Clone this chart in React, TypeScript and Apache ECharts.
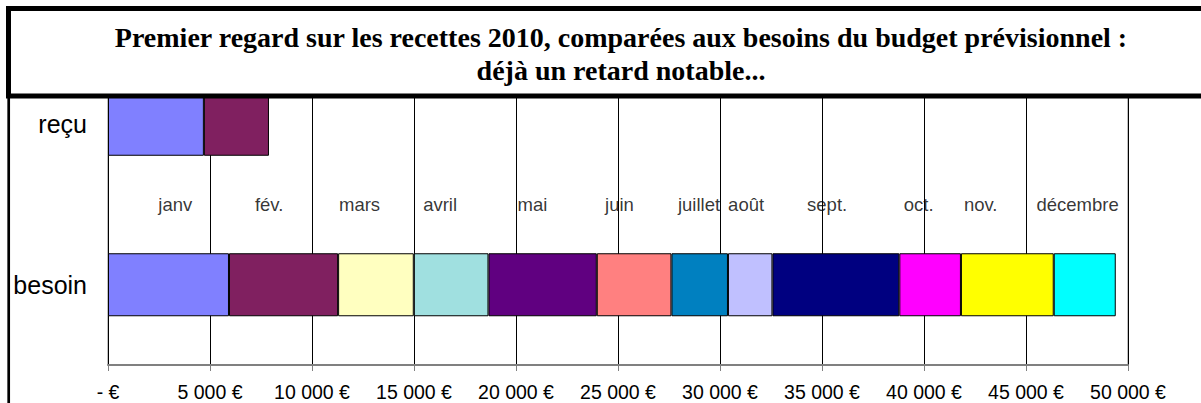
import React, { useEffect, useRef } from "react";
import * as echarts from "echarts";

const categories = ["besoin", "reçu"];
const months = ["janv", "fév.", "mars", "avril", "mai", "juin", "juillet", "août", "sept.", "oct.", "nov.", "décembre"];
const besoinValues = [5930, 5350, 3710, 3660, 5310, 3660, 2770, 2180, 6220, 3020, 4550, 3040];
const recuValues: (number | null)[] = [4700, 3190, null, null, null, null, null, null, null, null, null, null];
const monthColors = ["#8080FF", "#802060", "#FFFFC0", "#A0E0E0", "#600080", "#FF8080", "#0080C0", "#C0C0FF", "#000080", "#FF00FF", "#FFFF00", "#00FFFF"];
const monthLabelPositions = [3300, 7900, 12330, 16280, 20810, 25070, 28970, 31280, 35250, 39740, 42780, 47530];
const xTicks = { min: 0, max: 50000, interval: 5000 };
const titleLines = [
  "Premier regard sur les recettes 2010, comparées aux besoins du budget prévisionnel :",
  "déjà un retard notable...",
];

function fmtEuro(v: number): string {
  if (v === 0) return "- €";
  return String(v).replace(/\B(?=(\d{3})+(?!\d))/g, " ") + " €";
}

export default function App() {
  const ref = useRef<HTMLDivElement>(null);
  useEffect(() => {
    if (!ref.current) return;
    const chart = echarts.init(ref.current, undefined, { renderer: "svg" });
    const barSeries = months.map((m, i) => ({
      name: m,
      type: "bar",
      stack: "total",
      barWidth: 63,
      data: [besoinValues[i], recuValues[i]],
      itemStyle: { color: monthColors[i], borderColor: "#000", borderWidth: 1 },
      z: 3,
    }));
    chart.setOption({
      animation: false,
      backgroundColor: "#fff",
      textStyle: { fontFamily: "Liberation Sans" },
      grid: {
        left: 108,
        right: 73,
        top: 44,
        bottom: 38,
        show: true,
        borderColor: "#808080",
        borderWidth: 1,
        backgroundColor: "transparent",
      },
      xAxis: {
        type: "value",
        min: xTicks.min,
        max: xTicks.max,
        interval: xTicks.interval,
        axisLine: { show: true, lineStyle: { color: "#808080", width: 2 } },
        axisTick: { show: true, length: 6, lineStyle: { color: "#808080", width: 1 } },
        axisLabel: {
          formatter: fmtEuro,
          color: "#000",
          fontSize: 19.5,
          margin: 17,
          fontFamily: "Liberation Sans",
        },
        splitLine: { show: true, lineStyle: { color: "#000", width: 1 } },
      },
      yAxis: [
        {
          type: "category",
          data: categories,
          axisLine: { show: true, lineStyle: { color: "#000", width: 1 } },
          axisTick: { show: false },
          axisLabel: { color: "#000", fontSize: 25, margin: 21, fontFamily: "Liberation Sans" },
        },
        {
          type: "value",
          min: 0,
          max: 2,
          show: false,
        },
      ],
      series: [
        ...barSeries,
        {
          type: "scatter",
          yAxisIndex: 1,
          symbolSize: 0,
          silent: true,
          data: monthLabelPositions.map((x, i) => ({ value: [x, 1], name: months[i] })),
          label: {
            show: true,
            position: "inside",
            formatter: (p: any) => p.name,
            color: "#000",
            fontSize: 18.5,
            fontFamily: "Liberation Sans",
          },
          z: 4,
        },
      ],
      graphic: [
        {
          type: "rect",
          z: 100,
          shape: { x: 8.5, y: 8.5, width: 1230, height: 87.5 },
          style: { fill: "#fff", stroke: "#000", lineWidth: 5 },
        },
        {
          type: "text",
          z: 101,
          x: 621,
          y: 54,
          style: {
            text: titleLines.join("\n"),
            font: 'bold 28px "Liberation Serif"',
            fill: "#000",
            align: "center",
            verticalAlign: "middle",
            lineHeight: 33,
          },
        },
        {
          type: "line",
          z: 100,
          shape: { x1: 8.7, y1: 98, x2: 8.7, y2: 403 },
          style: { stroke: "#000", lineWidth: 2.7 },
        },
      ],
    });
    return () => chart.dispose();
  }, []);
  return (
    <div
      ref={ref}
      style={{ position: "fixed", left: 0, top: 0, width: 1201, height: 403 }}
    />
  );
}
